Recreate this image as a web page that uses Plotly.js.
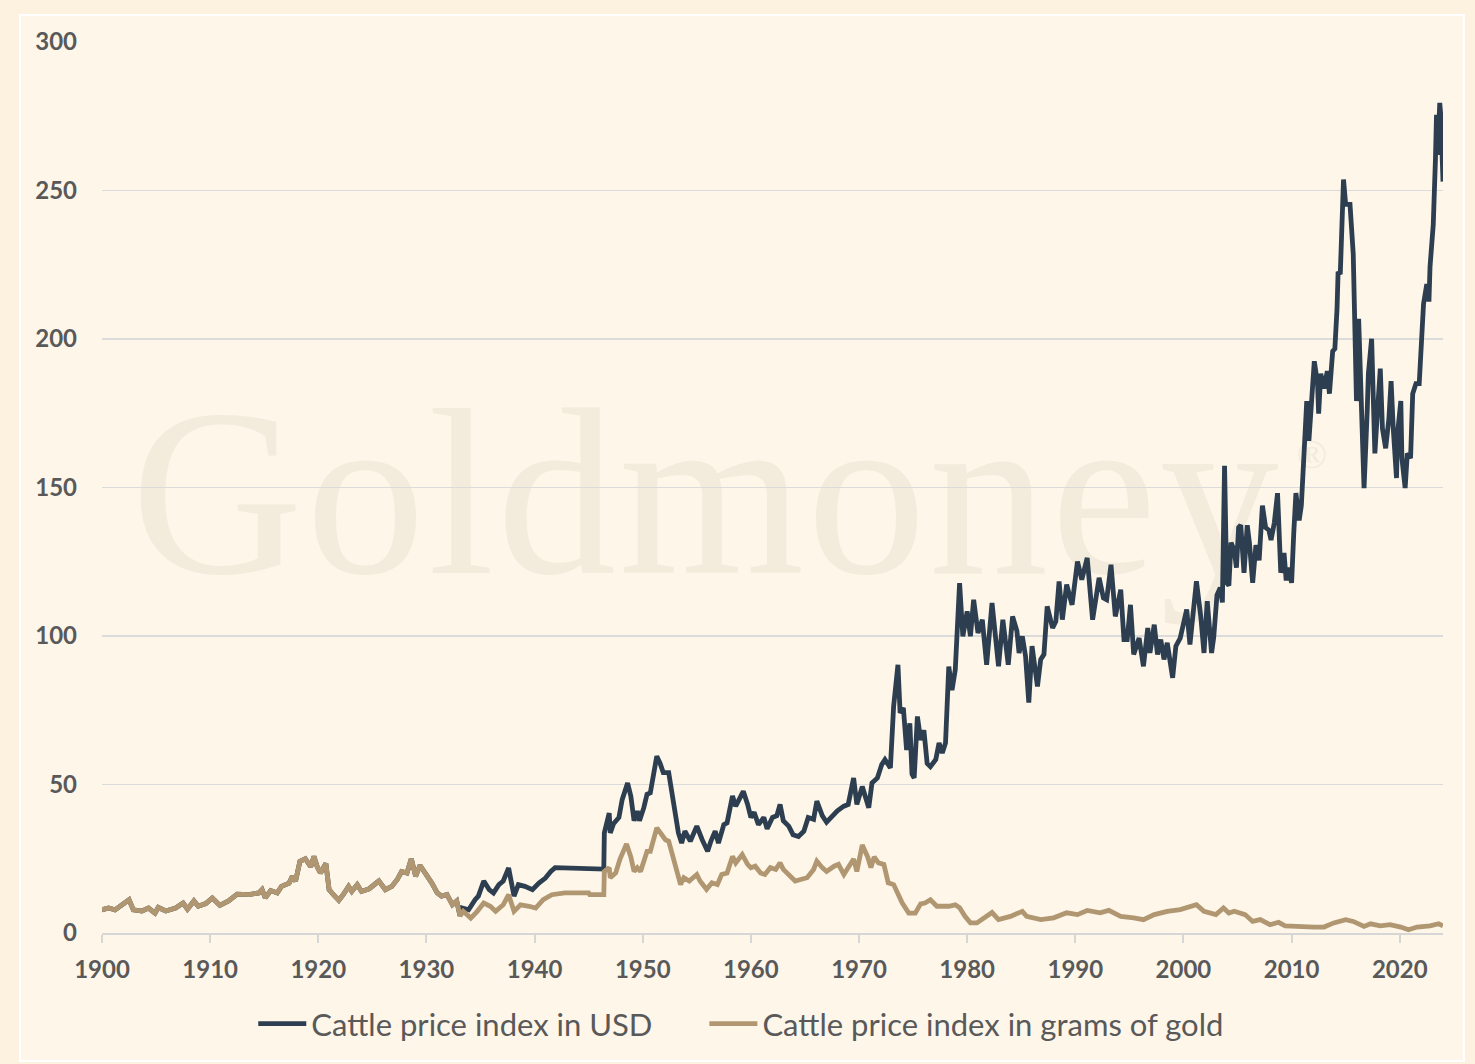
<!DOCTYPE html>
<html>
<head>
<meta charset="utf-8">
<script src="https://cdn.plot.ly/plotly-3.0.1.min.js"></script>
<style>
  html, body { margin: 0; padding: 0; }
  body { width: 1475px; height: 1064px; background: #fcf2df; position: relative; overflow: hidden; }
  #panel { position: absolute; left: 19px; top: 14px; width: 1442px; height: 1044px; border: 2px solid #ffffff; background: #fdf6e9; }
  #wm { position: absolute; left: 0; top: 0; }
  #chart { position: absolute; left: 0; top: 0; width: 1475px; height: 1064px; }
</style>
</head>
<body>
<div id="panel"></div>
<svg id="wm" width="1475" height="1064">
  <text x="131" y="573" font-family="Liberation Serif, serif" font-size="238" letter-spacing="3" fill="#f3ebdb">Goldmoney</text>
  <text x="1312" y="454" font-family="Liberation Serif, serif" font-size="40" fill="#f3ebdb" text-anchor="middle" dominant-baseline="central">®</text>
</svg>
<div id="chart"></div>
<script>
// ---- Data ----
// Before 1933 (gold standard) both indices coincide
const pre1933Years = [1900.0,1900.6,1901.2,1901.7,1902.5,1902.9,1903.7,1904.3,1904.9,1905.2,1905.9,1906.8,1907.5,1907.9,1908.5,1908.9,1909.6,1910.2,1910.9,1911.7,1912.5,1913.6,1914.5,1914.8,1915.1,1915.6,1916.2,1916.6,1917.3,1917.6,1917.9,1918.3,1918.8,1919.3,1919.6,1919.9,1920.2,1920.7,1921.0,1921.4,1921.9,1922.3,1922.8,1923.1,1923.6,1924.0,1924.7,1925.6,1926.2,1926.8,1927.3,1927.7,1928.2,1928.6,1929.0,1929.4,1929.9,1930.5,1931.0,1931.4,1931.9,1932.4,1932.8,1933.1];
const pre1933Vals  = [7.8,8.4,7.8,9.0,11.2,7.8,7.4,8.4,6.7,8.6,7.4,8.4,10.1,8.0,10.8,9.0,9.9,11.8,9.3,10.8,13.1,12.9,13.5,14.6,11.8,14.3,13.5,15.7,16.8,19.1,17.5,24.1,25.0,22.3,25.8,22.3,20.2,23.4,14.6,12.9,11.0,12.9,15.7,14.0,16.3,14.0,14.9,17.5,14.6,15.7,18.0,20.7,20.2,25.0,19.1,22.8,20.2,16.8,13.5,12.4,12.9,9.5,10.8,5.8];

// Cattle price index in USD, from 1933
const usdYears = [1933.3,1933.9,1934.5,1934.8,1935.3,1935.8,1936.2,1936.7,1937.1,1937.6,1938.1,1938.5,1939.1,1939.8,1940.4,1941.0,1941.5,1941.9,1946.4,
1946.45,1946.9,1947.0,1947.3,1947.8,1948.1,1948.6,1948.9,1949.2,1949.5,1949.7,1950.1,1950.4,1950.7,1951.3,1951.6,1951.9,1952.4,1952.9,1953.3,1953.6,1953.9,1954.4,1955.0,1955.5,1956.0,1956.3,1956.7,1957.0,1957.5,1957.8,1958.3,1958.6,1958.9,1959.3,1959.7,1960.0,1960.3,1960.7,1961.2,1961.5,1962.0,1962.4,1962.7,1963.0,1963.5,1963.9,1964.4,1964.9,1965.3,1965.8,1966.1,1966.6,1967.0,1967.5,1968.0,1968.6,1969.0,1969.5,1969.8,1970.3,1970.9,1971.2,1971.7,1972.1,1972.4,1972.9,1973.2,1973.6,1973.8,1974.1,1974.4,1974.7,1974.9,1975.1,1975.4,1975.7,1976.0,1976.3,1976.6,1977.1,1977.4,1977.7,1978.0,1978.3,1978.6,1978.9,
1979.3,1979.6,1980.0,1980.3,1980.6,1981.0,1981.4,1981.8,1982.3,1982.9,1983.3,1983.8,1984.2,1984.6,1984.8,1985.1,1985.4,1985.7,1986.0,1986.5,1986.8,1987.1,1987.4,1987.9,1988.2,1988.5,1988.8,1989.2,1989.7,1990.2,1990.6,1991.1,1991.6,1992.2,1992.6,1992.9,1993.3,1993.7,1994.2,1994.5,1994.8,1995.1,1995.4,1995.9,1996.3,1996.7,1996.9,1997.3,1997.6,1997.9,1998.2,1998.5,1999.0,1999.3,1999.7,2000.3,2000.6,2001.2,2001.6,2001.9,2002.2,2002.6,
2002.8,2003.1,2003.4,2003.6,2003.8,2004.0,2004.2,2004.4,2004.7,2004.9,2005.1,2005.3,2005.6,2005.9,2006.1,2006.4,2006.7,2007.0,2007.3,2007.6,2007.9,2008.1,2008.4,2008.7,2009.0,2009.3,2009.5,2009.7,2010.0,2010.2,2010.4,2010.7,2010.9,2011.2,2011.4,2011.6,2011.8,2012.1,2012.4,2012.5,2012.7,2013.0,2013.3,2013.5,2013.8,2014.0,2014.2,2014.3,2014.5,2014.6,2014.8,2015.0,2015.4,2015.7,2015.8,2016.0,2016.2,2016.4,2016.7,2017.0,2017.1,2017.4,2017.5,2017.7,2017.9,2018.2,2018.4,2018.7,2019.0,2019.2,2019.4,2019.7,2019.8,2020.1,2020.2,2020.5,2020.7,2021.0,2021.2,2021.5,2021.8,2022.0,2022.2,2022.5,2022.7,2022.8,2023.1,2023.3,2023.4,2023.5,2023.7,2023.8,2024.0];
const usdVals = [8.4,7.8,11.2,12.4,17.5,14.6,13.5,16.3,17.5,21.9,12.4,16.3,15.7,14.6,16.8,18.5,20.7,22.0,21.5,
33.7,40.4,33.7,36.8,38.9,44.9,50.5,46.1,37.8,41.1,37.8,42.2,46.7,47.2,59.5,57.2,54.0,54.0,43.8,33.7,30.3,34.3,30.9,36.0,31.4,27.5,30.9,34.3,30.3,36.5,37.1,46.1,42.7,44.9,47.7,43.3,38.9,40.6,36.5,38.9,35.1,38.9,39.5,43.3,37.8,36.0,33.1,32.5,34.3,38.9,38.3,44.4,39.5,37.3,39.5,41.1,42.7,43.3,52.2,43.3,49.3,42.2,50.5,52.2,56.7,58.4,55.6,76.3,90.3,74.1,75.8,61.6,70.6,53.5,52.2,72.9,65.0,68.3,57.1,56.0,58.4,64.0,60.6,64.0,89.7,81.8,88.6,
117.8,99.9,108.3,99.9,112.2,101.0,105.5,90.3,111.1,89.8,105.5,90.3,106.6,101.7,94.3,99.9,93.2,77.6,96.6,83.0,92.1,93.8,110.0,102.7,104.9,118.4,105.5,117.3,110.5,125.1,119.0,126.3,105.5,119.6,112.8,112.2,124.0,106.6,115.6,98.8,98.8,110.5,93.8,99.3,89.8,102.7,94.3,103.8,93.8,98.8,92.1,97.7,85.9,96.6,99.3,108.9,97.1,118.4,106.6,94.3,111.7,94.3,
99.6,113.8,116.3,111.3,157.3,117.9,117.0,131.4,128.8,123.0,136.5,137.3,121.3,137.3,131.4,117.9,130.6,125.5,143.9,136.5,135.6,132.3,138.1,148.1,121.3,128.0,118.7,123.0,117.9,134.7,148.1,138.9,143.9,164.9,179.1,165.7,174.9,192.5,185.0,174.9,188.3,183.3,189.2,181.6,195.9,196.7,210.1,222.6,221.8,236.1,253.7,245.3,245.3,228.6,205.1,179.1,206.8,181.6,149.8,176.6,188.3,200.1,181.6,161.5,173.3,190.0,169.9,163.2,173.3,185.8,169.9,153.2,168.2,179.1,159.9,149.8,161.5,159.9,181.6,185.0,185.0,196.7,211.8,218.5,212.6,224.3,238.6,260.4,275.5,262.0,279.5,275.0,253.0];

// Cattle price index in grams of gold, from 1933
const goldYears = [1933.4,1934.1,1934.7,1935.3,1935.9,1936.4,1937.1,1937.6,1938.1,1938.7,1939.5,1940.1,1940.8,1941.6,1942.8,1945.0,1945.1,1946.4,
1946.45,1946.9,1947.0,1947.5,1947.9,1948.5,1948.9,1949.2,1949.5,1949.8,1950.4,1950.7,1951.3,1951.6,1952.1,1952.4,1952.7,1953.2,1953.5,1953.8,1954.3,1955.0,1955.3,1955.9,1956.4,1956.9,1957.3,1957.8,1958.3,1958.6,1959.2,1959.7,1960.0,1960.4,1960.9,1961.3,1961.8,1962.3,1962.7,1963.0,1963.5,1964.1,1964.6,1965.2,1965.8,1966.1,1966.6,1967.0,1967.7,1968.1,1968.6,1969.2,1969.5,1969.8,1970.3,1970.8,1971.1,1971.4,1971.8,1972.3,1972.7,1973.2,1973.5,1974.0,1974.6,1975.2,1975.7,1976.1,1976.6,1977.2,1977.7,1978.3,1978.9,1979.3,1979.8,
1980.3,1980.9,1981.5,1982.3,1982.9,1984.0,1985.1,1985.5,1986.8,1988.0,1989.2,1990.2,1991.1,1992.3,1993.1,1994.2,1995.4,1996.3,1997.3,1998.5,1999.7,2000.3,2001.2,2001.9,
2003.0,2003.7,2004.2,2004.7,2005.3,2005.7,2006.4,2007.1,2008.0,2008.8,2009.4,2010.8,2012.1,2013.0,2013.9,2015.0,2015.7,2016.7,2017.3,2018.2,2019.1,2020.1,2020.8,2021.6,2022.8,2023.6,2024.0];
const goldVals = [7.3,5.0,7.3,10.1,9.0,7.3,9.5,12.9,7.3,9.5,9.0,8.4,11.2,12.9,13.5,13.5,12.9,12.9,
20.7,22.0,18.6,20.2,24.9,30.0,25.6,20.7,22.0,20.7,27.5,27.5,35.4,33.9,31.4,30.9,27.1,20.7,16.3,18.6,17.5,19.7,17.5,14.7,16.9,16.3,19.7,20.2,25.8,23.6,26.4,23.1,22.0,22.5,20.2,19.7,22.0,21.4,23.6,21.4,19.7,17.5,18.0,18.6,21.4,24.2,22.0,20.7,22.5,23.1,19.7,23.1,24.9,20.7,29.6,25.6,22.0,25.6,23.6,23.1,16.9,16.3,14.0,10.1,6.7,6.7,9.8,10.1,11.2,9.0,9.0,9.0,9.5,8.5,5.6,
3.4,3.4,5.1,6.9,4.5,5.6,7.3,5.6,4.5,5.1,6.8,6.2,7.6,6.8,7.6,5.6,5.1,4.5,6.2,7.3,7.9,8.4,9.5,7.3,
6.2,8.4,6.7,7.3,6.7,6.2,3.9,4.5,2.8,3.6,2.4,2.0,2.0,2.0,3.4,4.5,3.9,2.2,3.1,2.4,2.8,2.0,1.1,2.0,2.4,3.1,2.4];

const seriesNames = ['Cattle price index in USD', 'Cattle price index in grams of gold'];
const xTickVals = [1900,1910,1920,1930,1940,1950,1960,1970,1980,1990,2000,2010,2020];
const yTickVals = [0,50,100,150,200,250,300];

const usdX = pre1933Years.concat(usdYears);
const usdY = pre1933Vals.concat(usdVals);
const goldX = pre1933Years.concat(goldYears);
const goldY = pre1933Vals.concat(goldVals);

const traces = [
  { x: usdX, y: usdY, name: seriesNames[0], type: 'scatter', mode: 'lines', legend: 'legend',
    line: { color: '#2c3e4f', width: 4.8 } },
  { x: goldX, y: goldY, name: seriesNames[1], type: 'scatter', mode: 'lines', legend: 'legend2',
    line: { color: '#b19771', width: 4.8 } }
];

const legendFont = { family: 'Lato, sans-serif', size: 31, color: '#595959' };
const layout = {
  width: 1475, height: 1064,
  margin: { l: 102, r: 32, t: 42, b: 131 },
  paper_bgcolor: 'rgba(0,0,0,0)',
  plot_bgcolor: 'rgba(0,0,0,0)',
  showlegend: true,
  legend: {
    orientation: 'h', x: 0.1128, xanchor: 'left', y: -0.102, yanchor: 'middle',
    font: legendFont, itemwidth: 48, bgcolor: 'rgba(0,0,0,0)'
  },
  legend2: {
    orientation: 'h', x: 0.4492, xanchor: 'left', y: -0.102, yanchor: 'middle',
    font: legendFont, itemwidth: 48, bgcolor: 'rgba(0,0,0,0)'
  },
  xaxis: {
    range: [1900, 2024], tickvals: xTickVals, ticktext: xTickVals.map(String),
    showgrid: false, zeroline: false,
    showline: true, linecolor: '#d6d6d6', linewidth: 2,
    ticks: 'outside', ticklen: 8, tickwidth: 2, tickcolor: '#d6d6d6',
    ticklabelstandoff: 6,
    tickfont: { family: 'Lato, sans-serif', size: 24, color: '#595959', weight: 'bold' },
    fixedrange: true
  },
  yaxis: {
    range: [0, 300], tickvals: yTickVals, ticktext: yTickVals.map(String),
    showgrid: true, gridcolor: '#dbdbdb', gridwidth: 1.5,
    zeroline: false, showline: false, ticks: '',
    ticklabelstandoff: 24,
    tickfont: { family: 'Lato, sans-serif', size: 24, color: '#595959', weight: 'bold' },
    fixedrange: true
  }
};

Plotly.newPlot('chart', traces, layout, { displayModeBar: false, staticPlot: true });
</script>
</body>
</html>
